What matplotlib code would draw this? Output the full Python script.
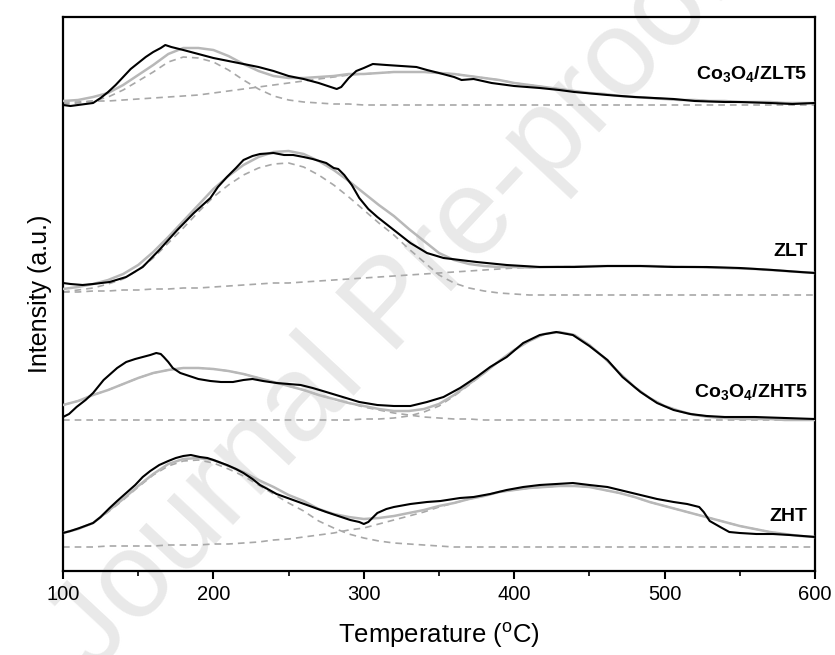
import numpy as np
import matplotlib.pyplot as plt
from matplotlib.ticker import MultipleLocator

plt.rcParams['font.family'] = ['Liberation Sans', 'DejaVu Sans']
plt.rcParams['mathtext.fontset'] = 'custom'
plt.rcParams['mathtext.rm'] = 'Liberation Sans'
plt.rcParams['mathtext.bf'] = 'Liberation Sans:bold'

# temperature grid of the fitted peaks
fit_t = list(range(100, 601, 10))

# ---- Co3O4/ZLT5 ----
zlt5_t = [100, 105, 110, 120, 125, 130, 135, 140, 145, 150, 155, 160, 165, 168, 172, 180, 190, 200,
          210, 220, 230, 240, 250, 260, 270, 278, 282, 285, 290, 295, 300, 306, 315, 325, 335, 342,
          350, 360, 365, 373, 385, 400, 417, 430, 440, 462, 480, 506, 520, 540, 550, 570, 585, 600]
zlt5_i = [0, -1, 0, 2, 7, 13, 20, 28, 36, 42, 48, 53, 57, 60, 58, 55, 51, 47,
          44, 41, 38, 34, 29, 26, 22, 18, 16, 18, 27, 34, 37, 41, 40, 39, 38, 35,
          32, 28, 25, 26, 22, 19, 17, 15, 13, 10, 8, 6, 4, 3, 3, 2, 1, 2]
zlt5_c1 = [1, 2, 4, 8, 15, 24, 33, 43, 48, 47, 43, 35, 25, 16, 9, 5, 3, 2, 1, 1, 0,
           0, 0, 0, 0, 0, 0, 0, 0, 0, 0, 0, 0, 0, 0, 0, 0, 0, 0, 0, 0, 0, 0, 0, 0, 0, 0, 0, 0, 0, 0]
zlt5_c2 = [3, 3, 4, 4, 5, 6, 7, 8, 9, 10, 12, 14, 16, 18, 20, 22, 24, 26, 28, 30, 31,
           32, 33, 33, 33, 32, 31, 29, 27, 25, 22, 20, 18, 16, 14, 12, 11, 9, 8, 7, 6,
           5, 5, 4, 4, 3, 3, 3, 2, 2, 2]

# ---- ZLT ----
zlt_t = [100, 105, 113, 120, 131, 142, 153, 164, 176, 187, 198, 203, 209, 215, 220, 226, 231, 240,
         247, 253, 260, 266, 275, 280, 283, 287, 292, 297, 303, 309, 320, 331, 342, 353, 364, 375,
         395, 417, 440, 462, 484, 506, 528, 550, 572, 590, 600]
zlt_i = [12, 11, 10, 11, 13, 18, 28, 45, 65, 82, 97, 108, 118, 127, 135, 139, 141, 142,
         140, 140, 138, 136, 132, 127, 126, 120, 110, 97, 86, 78, 65, 52, 42, 37, 35, 33,
         30, 28, 28, 29, 29, 28, 28, 27, 25, 23, 22]
zlt_c1 = [3, 5, 7, 11, 16, 25, 37, 52, 67, 83, 98, 110, 120, 127, 131, 132, 128, 120, 110, 98, 85,
          72, 60, 46, 33, 20, 12, 7, 4, 2, 1, 0, 0, 0, 0, 0, 0, 0, 0, 0, 0,
          0, 0, 0, 0, 0, 0, 0, 0, 0, 0]
zlt_c2 = [3, 3, 4, 4, 5, 5, 6, 6, 7, 7, 8, 9, 10, 11, 12, 12, 13, 14, 15, 16, 17,
          18, 19, 20, 21, 22, 23, 24, 25, 26, 27, 27.5, 28, 28.3, 28.5, 28.8, 29, 29, 29, 29, 28.5,
          28.3, 28, 27.5, 27, 26.5, 26, 25, 24, 23, 22]

# ---- Co3O4/ZHT5 ----
zht5_t = [100, 104, 109, 115, 120, 127, 136, 142, 148, 153, 158, 162, 165, 167, 170, 173, 178, 182,
          190, 198, 205, 213, 220, 226, 233, 242, 250, 258, 266, 275, 286, 297, 309, 320, 331, 342,
          353, 364, 375, 384, 395, 406, 417, 428, 439, 450, 462, 472, 484, 495, 506, 517, 528, 540,
          560, 580, 600]
zht5_i = [3, 6, 13, 20, 27, 40, 52, 58, 61, 63, 65, 67, 66, 63, 58, 52, 47, 45,
          41, 39, 38, 38, 40, 41, 39, 37, 36, 35, 32, 28, 23, 18, 15, 14, 14, 18,
          23, 32, 43, 53, 63, 77, 85, 88, 85, 74, 60, 43, 28, 17, 10, 6, 4, 3,
          3, 2, 1]
zht5_c1 = [15, 19, 25, 30, 36, 42, 47, 50, 52, 52, 51, 49, 46, 42, 38, 34, 30, 25, 21, 17, 13,
           10, 7, 5, 3, 2, 1, 1, 0, 0, 0, 0, 0, 0, 0, 0, 0, 0, 0, 0, 0,
           0, 0, 0, 0, 0, 0, 0, 0, 0, 0]
zht5_c2 = [0, 0, 0, 0, 0, 0, 0, 0, 0, 0, 0, 0, 0, 0, 0, 0, 0, 0, 0, 0, 1,
           1, 2, 4, 8, 14, 24, 35, 47, 59, 70, 79, 86, 88, 85, 75, 62, 47, 33, 22, 14,
           9, 5, 3, 2, 1, 1, 1, 0, 0, 0]

# ---- ZHT ----
zht_t = [100, 105, 111, 120, 125, 131, 136, 142, 148, 153, 158, 164, 170, 175, 180, 185, 191, 196,
         200, 209, 215, 220, 226, 231, 236, 242, 253, 264, 275, 283, 291, 297, 300, 303, 309, 315,
         320, 331, 342, 351, 364, 373, 384, 395, 406, 417, 428, 439, 450, 462, 473, 484, 495, 506,
         515, 523, 526, 530, 537, 543, 550, 561, 572, 583, 592, 600]
zht_i = [14, 16, 19, 24, 30, 39, 46, 54, 62, 70, 76, 82, 86, 89, 91, 92, 90, 89,
         87, 82, 78, 74, 68, 62, 58, 53, 47, 41, 35, 31, 27, 25, 23, 25, 34, 38,
         40, 43, 45, 46, 49, 50, 53, 57, 60, 62, 63, 64, 62, 60, 56, 52, 48, 45,
         43, 40, 35, 26, 20, 15, 14, 13, 13, 12, 11, 10]
zht_c1 = [14, 18, 24, 35, 47, 60, 72, 81, 86, 87, 84, 78, 71, 62, 53, 44, 36, 26, 19, 13, 9,
          6, 4, 3, 2, 1, 0, 0, 0, 0, 0, 0, 0, 0, 0, 0, 0, 0, 0, 0, 0,
          0, 0, 0, 0, 0, 0, 0, 0, 0, 0]
zht_c2 = [0, 0, 0, 1, 1, 1, 1, 2, 2, 2, 3, 3, 4, 5, 7, 8, 10, 12, 14, 17, 19,
          23, 27, 31, 35, 40, 44, 48, 51, 55, 57, 59, 60, 61, 61, 60, 57, 54, 50, 45, 41,
          37, 33, 29, 25, 21, 18, 15, 13, 11, 10]

samples = [
    (r"Co$_\mathbf{3}$O$_\mathbf{4}$/ZLT5", zlt5_t, zlt5_i, zlt5_c1, zlt5_c2, 466, 491),
    ("ZLT", zlt_t, zlt_i, zlt_c1, zlt_c2, 276, 315),
    (r"Co$_\mathbf{3}$O$_\mathbf{4}$/ZHT5", zht5_t, zht5_i, zht5_c1, zht5_c2, 151, 173),
    ("ZHT", zht_t, zht_i, zht_c1, zht_c2, 24, 50),
]

fig = plt.figure(figsize=(8.35, 6.55), dpi=100)
ax = fig.add_axes([63/835, 84/655, 752/835, 554/655])

for name, t, inten, c1, c2, off, label_y in samples:
    c1 = np.array(c1, dtype=float)
    c2 = np.array(c2, dtype=float)
    ax.plot(fit_t, c1 + off, ls=(0, (4, 3)), color="#a8a8a8", lw=1.2, zorder=2)
    ax.plot(fit_t, c2 + off, ls=(0, (4, 3)), color="#a8a8a8", lw=1.2, zorder=2)
    ax.plot(fit_t, c1 + c2 + off, color="#b8b8b8", lw=1.8, zorder=3)
    ax.plot(t, np.array(inten) + off, color="black", lw=1.5, zorder=4)
    ax.text(595, label_y, name, ha="right", va="baseline", fontsize=14, fontweight="bold", zorder=5)

# watermark
ax.text(0.47, 0.53, "Journal Pre-proof", transform=fig.transFigure, rotation=47,
        ha="center", va="center", fontsize=88, color="#e9e9e9", zorder=0.5, clip_on=False)

ax.set_xlim(100, 600)
ax.set_ylim(0, 554)
ax.set_yticks([])
ax.xaxis.set_major_locator(MultipleLocator(100))
ax.xaxis.set_minor_locator(MultipleLocator(50))
ax.tick_params(axis="x", which="major", direction="out", length=6, width=1.5, labelsize=14.5, pad=4)
ax.tick_params(axis="x", which="minor", direction="out", length=3.5, width=1.2)
for sp in ax.spines.values():
    sp.set_linewidth(1.6)

ax.set_xlabel(r"Temperature ($^\mathregular{o}$C)", fontsize=18.5, labelpad=12)
ax.set_ylabel("Intensity (a.u.)", fontsize=18, labelpad=8)

fig.savefig("out.png", dpi=100)
